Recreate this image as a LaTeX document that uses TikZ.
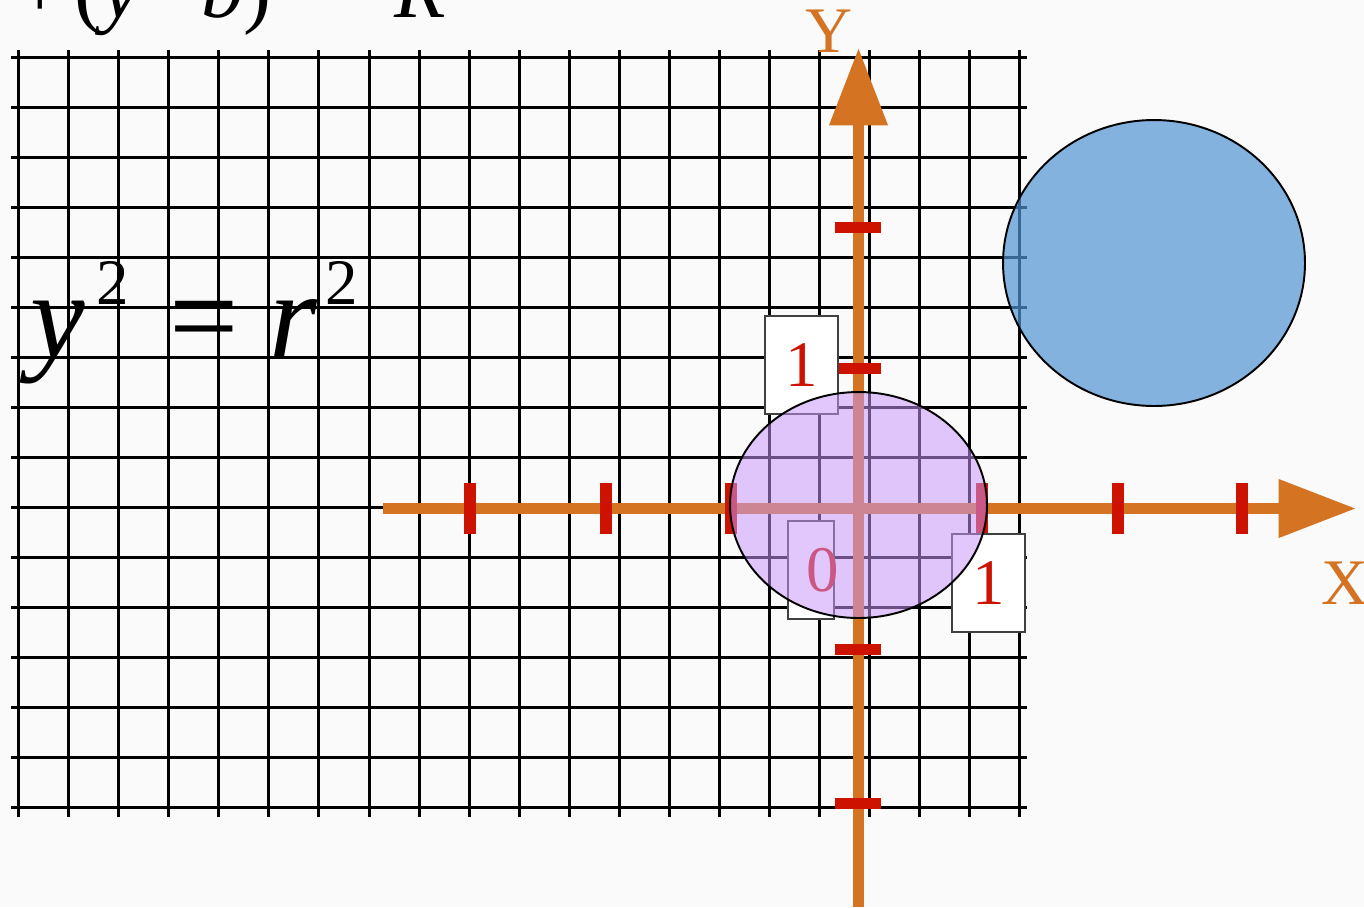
\documentclass[tikz,border=0pt]{standalone}
\usepackage{fontspec}
\setmainfont{Liberation Serif}
\usepackage{xcolor}
\usepackage{tikz}
\usetikzlibrary{arrows.meta, positioning}
\definecolor{axOrange}{HTML}{D47322}
\definecolor{tickRed}{HTML}{CD1200}
\definecolor{discLilac}{HTML}{C896FA}
\definecolor{discBlue}{HTML}{5194D3}
\definecolor{paperBg}{HTML}{FAFAFA}
\newcommand{\supdigit}[2]{\raisebox{#1}{\fontsize{37}{40}\selectfont #2}}

\begin{document}
\begin{tikzpicture}[x=0.02cm, y=-0.02cm,
  gridline/.style={line width=1.7pt, black},
  axis/.style={axOrange, line width=6.2pt, -{Triangle[length=1.55cm, width=1.12cm]}},
  tickmark/.style={fill=tickRed},
  numbox/.style={draw=black!75, line width=0.8pt, fill=white, inner sep=0pt,
                 minimum width=#1, minimum height=1.96cm, text=tickRed,
                 font=\fontsize{37}{40}\selectfont},
  axlabel/.style={text=axOrange, font=\fontsize{37}{40}\selectfont, inner sep=0pt},
  disc/.style={draw=black, line width=1.1pt, fill=#1},
  eqn/.style={font=\fontsize{#1}{#1}\selectfont, inner sep=0pt, anchor=base west},
]
  \useasboundingbox[fill=paperBg] (0,0) rectangle (1364,907);

  % grid
  \foreach \gx in {0,...,20}
    \draw[gridline] (18.8+50.03*\gx,50) -- (18.8+50.03*\gx,817);
  \foreach \gy in {0,...,15}
    \draw[gridline] (11,57.9+50*\gy) -- (1027,57.9+50*\gy);

  % axes
  \coordinate (xstart) at (383,508.5);
  \coordinate (xend) at (1356,508.5);
  \coordinate (ystart) at (858.5,907);
  \coordinate (yend) at (858.5,48);
  \draw[axis] (xstart) -- (xend);
  \draw[axis] (ystart) -- (yend);

  % ticks
  \foreach \tx in {470,606,731,982,1117.5,1242.3}
    \fill[tickmark] (\tx-6,483) rectangle (\tx+6,534);
  \foreach \ty in {227,368,649,803}
    \fill[tickmark] (835,\ty-5.5) rectangle (881,\ty+5.5);

  % number boxes
  \node[numbox=1.46cm] (oneY) at (801.5,365) {1};
  \node[numbox=0.92cm, text width=0.92cm, align=right] (zero) at (811,570) {0\hspace*{-3pt}};
  \node[numbox=1.46cm] (oneX) at (988.5,583) {1};

  % discs
  \draw[disc=discLilac, fill opacity=0.53] (858.5,505) ellipse [x radius=2.57cm, y radius=2.26cm];
  \draw[disc=discBlue, fill opacity=0.7] (1154,263) ellipse [x radius=3.02cm, y radius=2.86cm];

  % labels
  \node[axlabel] (ylab) at (829,31.5) {Y};
  \node[axlabel] (xlab) at (1345,583) {X};
  \node[eqn=48] (circEq) at (16,17)
    {+\kern6pt(\textit{y}\kern4pt−\kern4pt\textit{b})\supdigit{22pt}{2}\kern14pt=\kern10pt\textit{R}\supdigit{22pt}{2}};
  \node[eqn=70] (originEq) at (30,357)
    {\textit{y}\kern6.8pt\supdigit{30pt}{2}\kern23pt=\kern17pt\textit{r}\kern4.5pt\supdigit{30pt}{2}};
\end{tikzpicture}
\end{document}
